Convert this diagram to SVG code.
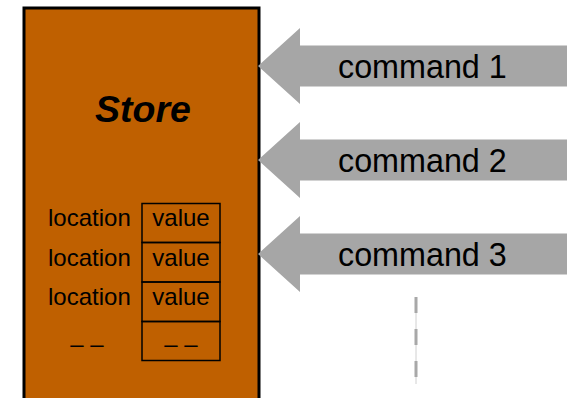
<svg xmlns="http://www.w3.org/2000/svg" width="567" height="398" viewBox="0 0 567 398">
  <style>
    .lbl { font-family: "Liberation Sans", Arial, sans-serif; fill: #000; }
    .cell { fill: none; stroke: #000; stroke-width: 1.5; }
    .cmd { fill: #a6a6a6; }
  </style>
  <rect width="567" height="398" fill="#fff"/>

  <!-- Store block with its location/value table -->
  <g id="store">
    <rect x="24" y="8" width="235" height="400" fill="#bf6000" stroke="#000" stroke-width="3"/>
    <text class="lbl" x="143" y="122" font-size="37.5" font-weight="bold" font-style="italic" text-anchor="middle">Store</text>
    <rect class="cell" x="142" y="203.5" width="78" height="39"/>
    <rect class="cell" x="142" y="242.5" width="78" height="39.5"/>
    <rect class="cell" x="142" y="282" width="78" height="39.5"/>
    <rect class="cell" x="142" y="321.5" width="78" height="39"/>
    <g class="lbl" font-size="24">
      <text x="48" y="226">location</text>
      <text x="48" y="266">location</text>
      <text x="48" y="305">location</text>
      <text x="87" y="352" text-anchor="middle">– –</text>
      <text x="181" y="226" text-anchor="middle">value</text>
      <text x="181" y="266" text-anchor="middle">value</text>
      <text x="181" y="305" text-anchor="middle">value</text>
      <text x="181" y="352" text-anchor="middle">– –</text>
    </g>
  </g>

  <!-- Command arrows feeding the store -->
  <g id="connectors">
    <g id="command1">
      <polygon class="cmd" points="258,66 300,28 300,45.5 567,45.5 567,86.5 300,86.5 300,104"/>
      <text class="lbl" x="338" y="78" font-size="32.3">command 1</text>
    </g>
    <g id="command2">
      <polygon class="cmd" points="258,160 300,122 300,139.5 567,139.5 567,180.5 300,180.5 300,198"/>
      <text class="lbl" x="338" y="172" font-size="32.3">command 2</text>
    </g>
    <g id="command3">
      <polygon class="cmd" points="258,254 300,216 300,233.5 567,233.5 567,274.5 300,274.5 300,292"/>
      <text class="lbl" x="338" y="266" font-size="32.3">command 3</text>
    </g>
    <!-- continuation marker for further commands -->
    <line x1="416" y1="297" x2="416" y2="384" stroke="#d0d0d0" stroke-width="1"/>
    <line x1="416" y1="297" x2="416" y2="384" stroke="#a8a8a8" stroke-width="3" stroke-dasharray="16,16"/>
  </g>
</svg>
